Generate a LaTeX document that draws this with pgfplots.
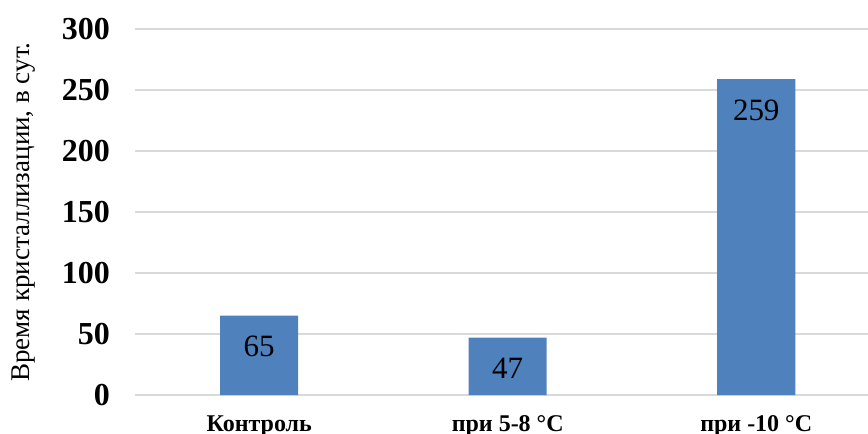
\documentclass[border=0pt]{standalone}
\usepackage{fontspec}
\setmainfont{Liberation Serif}
\usepackage{pgfplots}
\pgfplotsset{compat=1.18}
\definecolor{barblue}{HTML}{4F81BD}
\definecolor{gridgray}{HTML}{D9D9D9}
\begin{document}
\begin{tikzpicture}
\path[use as bounding box] (-67.5pt,-19.5pt) rectangle (366.5pt,197.5pt);
\begin{axis}[
  at={(0,0)}, anchor=south west,
  scale only axis,
  width=372.75pt, height=183pt,
  ybar, bar width=39pt,
  xmin=-0.5, xmax=2.5,
  ymin=0, ymax=300,
  ytick={0,50,...,300},
  xtick=data,
  xticklabels={Контроль, при 5-8 °C, при -10 °C},
  /pgf/number format/assume math mode=true,
  axis line style={draw=none},
  major tick length=0pt,
  ymajorgrids,
  grid style={gridgray, line width=0.8pt},
  yticklabel style={font=\fontsize{16}{18}\selectfont\bfseries, xshift=-9pt},
  xticklabel style={font=\fontsize{12}{14}\selectfont\bfseries, anchor=base, yshift=-18pt},
  ylabel={Время кристаллизации, в сут.},
  every axis y label/.style={at={([xshift=-55.5pt]axis description cs:0,0.5)}, rotate=90, anchor=center, font=\fontsize{13.5}{15}\selectfont},
  nodes near coords,
  nodes near coords style={font=\fontsize{15.5}{17}\selectfont, text=black, anchor=base, yshift=-20.5pt},
]
\addplot[fill=barblue, draw=none] coordinates {(0,65) (1,47) (2,259)};
\end{axis}
\end{tikzpicture}
\end{document}
